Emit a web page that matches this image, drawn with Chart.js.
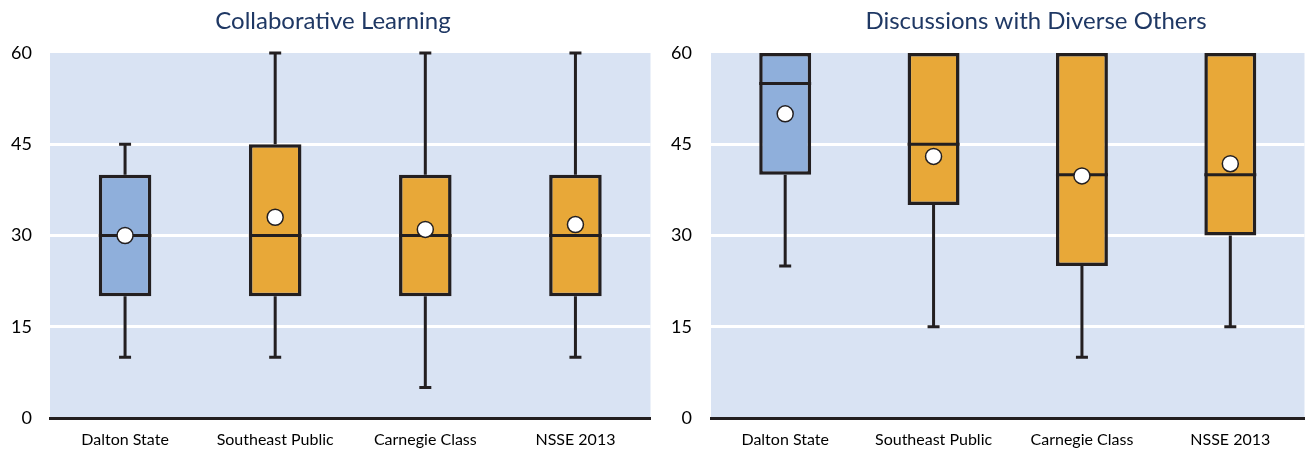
<!DOCTYPE html>
<html>
<head>
<meta charset="utf-8">
<script src="https://cdn.jsdelivr.net/npm/chart.js@4.4.1/dist/chart.umd.min.js"></script>
<style>
  html, body { margin: 0; padding: 0; background: #ffffff; }
  #wrap { position: relative; width: 1314px; height: 454px; }
  #c1 { position: absolute; left: 0; top: 0; }
  #c2 { position: absolute; left: 660px; top: 0; }
</style>
</head>
<body>
<div id="wrap">
  <canvas id="c1" width="660" height="454"></canvas>
  <canvas id="c2" width="654" height="454"></canvas>
</div>
<script>
// categories and tick values
var categories = ['Dalton State', 'Southeast Public', 'Carnegie Class', 'NSSE 2013'];
var yTicks = [0, 15, 30, 45, 60];

// Collaborative Learning
var collabLow    = [10, 10, 5, 10];
var collabQ1     = [20, 20, 20, 20];
var collabMedian = [30, 30, 30, 30];
var collabQ3     = [40, 45, 40, 40];
var collabHigh   = [45, 60, 60, 60];
var collabMean   = [30, 33, 31, 31.8];

// Discussions with Diverse Others
var diverseLow    = [25, 15, 10, 15];
var diverseQ1     = [40, 35, 25, 30];
var diverseMedian = [55, 45, 40, 40];
var diverseQ3     = [60, 60, 60, 60];
var diverseHigh   = [60, 60, 60, 60];
var diverseMean   = [50, 43, 39.8, 41.8];

var boxColors = ['#8fafdb', '#e8a838', '#e8a838', '#e8a838'];
var ink = '#231f20';
var fontFamily = 'Lato, "Open Sans", sans-serif';

// plot background
var bgPlugin = {
    id: 'plotBg',
    beforeDraw: function (chart) {
        var a = chart.chartArea, ctx = chart.ctx;
        ctx.save();
        ctx.fillStyle = '#d9e3f3';
        ctx.fillRect(a.left, a.top, a.right - a.left, a.bottom - a.top);
        ctx.restore();
    }
};

// title drawn at a given x
var titlePlugin = {
    id: 'panelTitle',
    afterDraw: function (chart, args, opts) {
        var ctx = chart.ctx;
        ctx.save();
        ctx.font = '24px ' + fontFamily;
        ctx.fillStyle = '#1f3864';
        ctx.textAlign = 'center';
        ctx.textBaseline = 'middle';
        ctx.fillText(opts.text, opts.x, 21);
        ctx.restore();
    }
};

// whiskers, caps and median lines, through the chart's scales
var whiskerPlugin = {
    id: 'whiskers',
    afterDatasetDraw: function (chart, args, opts) {
        if (args.index !== 0) return;
        var x = chart.scales.x, y = chart.scales.y, ctx = chart.ctx;
        var meta = chart.getDatasetMeta(0);
        ctx.save();
        ctx.strokeStyle = ink;
        ctx.lineWidth = 3;
        for (var i = 0; i < categories.length; i++) {
            var cx = x.getPixelForValue(i);
            var half = meta.data[i].width / 2;
            var yLow = y.getPixelForValue(opts.low[i]);
            var yQ1 = y.getPixelForValue(opts.q1[i]);
            var yQ3 = y.getPixelForValue(opts.q3[i]);
            var yHigh = y.getPixelForValue(opts.high[i]);
            var yMed = y.getPixelForValue(opts.median[i]);
            ctx.beginPath();
            if (opts.low[i] < opts.q1[i]) {
                ctx.moveTo(cx, yQ1); ctx.lineTo(cx, yLow);
                ctx.moveTo(cx - 6, yLow); ctx.lineTo(cx + 6, yLow);
            }
            if (opts.high[i] > opts.q3[i]) {
                ctx.moveTo(cx, yQ3); ctx.lineTo(cx, yHigh);
                ctx.moveTo(cx - 6, yHigh); ctx.lineTo(cx + 6, yHigh);
            }
            ctx.moveTo(cx - half, yMed); ctx.lineTo(cx + half, yMed);
            ctx.stroke();
        }
        ctx.restore();
    }
};

function makeChart(id, title, titleX, low, q1, median, q3, high, mean, axisWidth, tickPad) {
    var boxes = [];
    for (var i = 0; i < categories.length; i++) boxes.push([q1[i], q3[i]]);
    return new Chart(document.getElementById(id), {
        type: 'bar',
        data: {
            labels: categories,
            datasets: [
                {
                    label: 'box',
                    data: boxes,
                    backgroundColor: boxColors,
                    borderColor: ink,
                    borderWidth: 3.5,
                    borderSkipped: false,
                    barPercentage: 0.35,
                    categoryPercentage: 1,
                    order: 2
                },
                {
                    type: 'line',
                    label: 'mean',
                    data: mean,
                    showLine: false,
                    pointRadius: 8,
                    pointBackgroundColor: '#ffffff',
                    pointBorderColor: ink,
                    pointBorderWidth: 1.5,
                    order: 1
                }
            ]
        },
        options: {
            responsive: false,
            animation: false,
            devicePixelRatio: 1,
            layout: { padding: { top: 53, bottom: 0, left: 0, right: 0 } },
            plugins: {
                legend: { display: false },
                tooltip: { enabled: false },
                panelTitle: { text: title, x: titleX },
                whiskers: { low: low, q1: q1, median: median, q3: q3, high: high }
            },
            scales: {
                x: {
                    grid: { display: false, drawTicks: false },
                    border: { display: true, color: ink, width: 3 },
                    ticks: { color: '#000', font: { family: fontFamily, size: 16 }, padding: 12 },
                    afterFit: function (s) { s.height = 36; }
                },
                y: {
                    min: 0, max: 60,
                    afterBuildTicks: function (s) {
                        s.ticks = yTicks.map(function (v) { return { value: v }; });
                    },
                    grid: {
                        drawTicks: false,
                        lineWidth: 3,
                        color: function (c) {
                            var v = c.tick ? c.tick.value : 0;
                            return (v > 0 && v < 60) ? '#ffffff' : 'rgba(0,0,0,0)';
                        }
                    },
                    border: { display: false },
                    ticks: { color: '#000', font: { family: fontFamily, size: 18 }, padding: tickPad },
                    afterFit: function (s) { s.width = axisWidth; }
                }
            }
        },
        plugins: [bgPlugin, titlePlugin, whiskerPlugin]
    });
}

makeChart('c1', 'Collaborative Learning', 333,
    collabLow, collabQ1, collabMedian, collabQ3, collabHigh, collabMean, 50, 18);
makeChart('c2', 'Discussions with Diverse Others', 376,
    diverseLow, diverseQ1, diverseMedian, diverseQ3, diverseHigh, diverseMean, 51, 19);
</script>
</body>
</html>
